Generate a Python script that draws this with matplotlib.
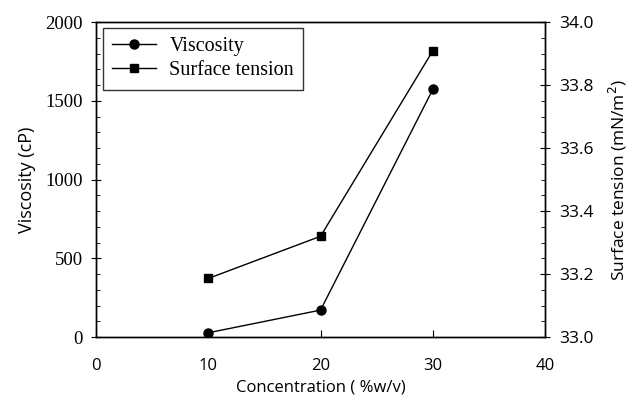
import matplotlib
matplotlib.use("Agg")
import matplotlib.pyplot as plt
from matplotlib.ticker import MultipleLocator

# data
concentration = [10, 20, 30]
viscosity = [27, 171, 1573]
surface_tension = [33.186, 33.32, 33.909]

plt.rcParams['font.family'] = ['Liberation Serif', 'DejaVu Serif']
sans = ['Open Sans', 'DejaVu Sans']

fig = plt.figure(figsize=(6.36, 4.11), dpi=100)
ax = fig.add_axes([0.151, 0.180, 0.706, 0.766])
ax2 = ax.twinx()

l1, = ax.plot(concentration, viscosity, color='black', lw=1.0,
              marker='o', markersize=6.5, label='Viscosity')
l2, = ax2.plot(concentration, surface_tension, color='black', lw=1.0,
               marker='s', markersize=5.5, label='Surface tension')

ax.set_xlim(0, 40)
ax.set_ylim(0, 2000)
ax2.set_ylim(33.0, 34.0)
ax.xaxis.set_major_locator(MultipleLocator(10))
ax.yaxis.set_major_locator(MultipleLocator(500))
ax.yaxis.set_minor_locator(MultipleLocator(100))
ax2.yaxis.set_major_locator(MultipleLocator(0.2))
ax2.yaxis.set_minor_locator(MultipleLocator(0.05))
ax2.yaxis.set_major_formatter(plt.FuncFormatter(lambda v, p: f"{v:.1f}"))

ax.tick_params(axis='x', direction='in', length=5, labelsize=12, pad=15, top=False)
ax.tick_params(axis='y', which='major', direction='inout', length=7, labelsize=13.5, pad=6)
ax.tick_params(axis='y', which='minor', direction='in', length=3)
ax2.tick_params(axis='y', which='major', direction='inout', length=7, labelsize=12.5, pad=7)
ax2.tick_params(axis='y', which='minor', direction='in', length=3)
for lab in ax2.get_yticklabels():
    lab.set_family(sans)
for lab in ax.get_xticklabels():
    lab.set_family(sans)

ax.set_xlabel('Concentration ( %w/v)', fontsize=12, family=sans, labelpad=4)
ax.set_ylabel('Viscosity (cP)', fontsize=13, family=sans, labelpad=7)
ax2.set_ylabel('Surface tension (mN/m$^2$)', fontsize=12.5, family=sans, labelpad=9)

for a in (ax, ax2):
    for s in a.spines.values():
        s.set_linewidth(1.0)

leg = ax.legend(handles=[l1, l2], loc='upper left', fontsize=14.5,
                frameon=True, fancybox=False, edgecolor='black',
                handlelength=2.2, handletextpad=0.65, borderpad=0.45,
                labelspacing=0.25, borderaxespad=0,
                bbox_to_anchor=(0.0156, 0.981))
leg.get_frame().set_linewidth(1.0)

fig.savefig('out.png', dpi=100)
